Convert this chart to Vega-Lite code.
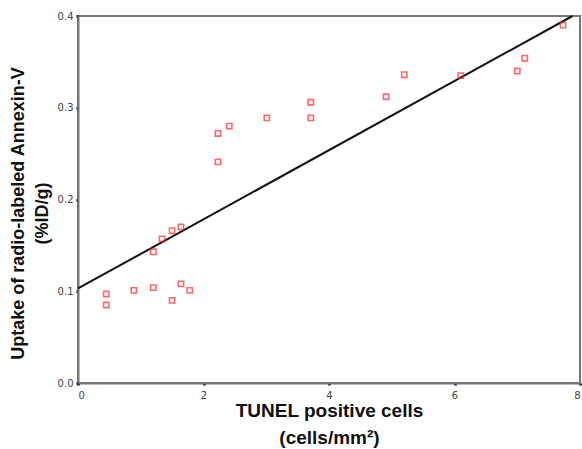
{
  "$schema": "https://vega.github.io/schema/vega-lite/v6.json",
  "width": 502,
  "height": 367,
  "autosize": "none",
  "padding": {"left": 78, "top": 16, "right": 2, "bottom": 66},
  "background": "white",
  "config": {
    "view": {"stroke": "#777", "strokeWidth": 2},
    "axis": {
      "grid": false,
      "domainColor": "#777",
      "domainWidth": 2,
      "tickColor": "#222",
      "tickSize": 2,
      "tickWidth": 3,
      "labelFont": "DejaVu Sans",
      "labelFontSize": 10,
      "labelColor": "#444",
      "titleFont": "Liberation Sans",
      "titleFontSize": 18,
      "titleFontWeight": "bold",
      "titleColor": "#111"
    }
  },
  "datasets": {
    "pts": [
      {"x": 0.45, "y": 0.097}, {"x": 0.45, "y": 0.085}, {"x": 0.89, "y": 0.101},
      {"x": 1.20, "y": 0.104}, {"x": 1.50, "y": 0.090}, {"x": 1.64, "y": 0.108},
      {"x": 1.78, "y": 0.101}, {"x": 1.20, "y": 0.143}, {"x": 1.34, "y": 0.157},
      {"x": 1.50, "y": 0.166}, {"x": 1.64, "y": 0.170}, {"x": 2.23, "y": 0.241},
      {"x": 2.23, "y": 0.272}, {"x": 2.41, "y": 0.280}, {"x": 3.01, "y": 0.289},
      {"x": 3.71, "y": 0.289}, {"x": 3.71, "y": 0.306}, {"x": 4.91, "y": 0.312},
      {"x": 5.20, "y": 0.336}, {"x": 6.10, "y": 0.335}, {"x": 7.00, "y": 0.340},
      {"x": 7.12, "y": 0.354}, {"x": 7.73, "y": 0.390}
    ],
    "fit": [{"x": 0, "y": 0.103}, {"x": 7.88, "y": 0.4}]
  },
  "layer": [
    {
      "data": {"name": "fit"},
      "mark": {"type": "line", "color": "#111", "strokeWidth": 2},
      "encoding": {
        "x": {"field": "x", "type": "quantitative", "scale": {"domain": [0, 8], "nice": false},
          "axis": {"values": [0, 2, 4, 6, 8], "format": "d", "labelPadding": 5,
            "title": ["TUNEL positive cells", "(cells/mm²)"], "titleFontSize": 19, "titleBaseline": "top", "titleY": 18, "titleLineHeight": 27}},
        "y": {"field": "y", "type": "quantitative", "scale": {"domain": [0, 0.4], "nice": false},
          "axis": {"values": [0, 0.1, 0.2, 0.3, 0.4], "format": ".1f", "labelPadding": 3,
            "title": ["Uptake of radio-labeled Annexin-V", "(%ID/g)"], "titleAngle": -90, "titleBaseline": "top",
            "titleAlign": "center", "titleX": -69, "titleY": 197, "titleLineHeight": 24}}
      }
    },
    {
      "data": {"name": "pts"},
      "mark": {"type": "point", "shape": "square", "filled": false, "color": "#ff2a2a", "size": 28, "strokeWidth": 1.6},
      "encoding": {
        "x": {"field": "x", "type": "quantitative"},
        "y": {"field": "y", "type": "quantitative"}
      }
    }
  ]
}
